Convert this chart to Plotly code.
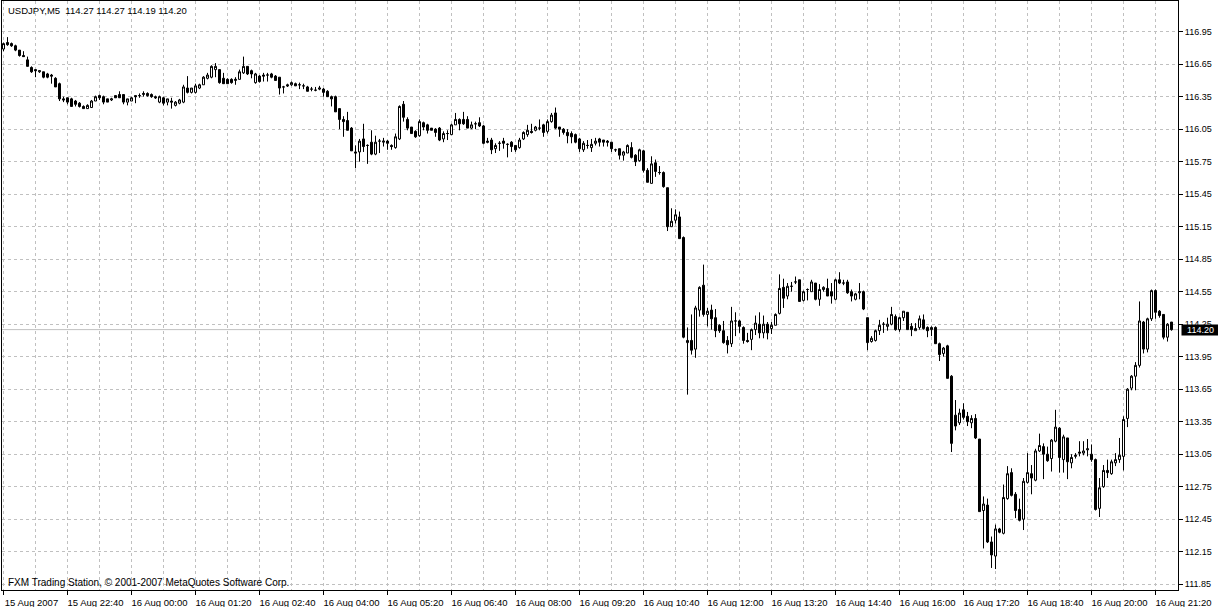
import plotly.graph_objects as go

# ---------------- data (USDJPY, M5) ----------------
opens = [
    116.79, 116.85, 116.84, 116.82, 116.78, 116.73, 116.69, 116.62, 116.60, 116.58,
    116.58, 116.56, 116.55, 116.52, 116.47, 116.33, 116.34, 116.33, 116.31, 116.29,
    116.26, 116.24, 116.25, 116.31, 116.36, 116.35, 116.33, 116.32, 116.36, 116.37,
    116.37, 116.30, 116.31, 116.36, 116.36, 116.37, 116.38, 116.37, 116.35, 116.30,
    116.34, 116.30, 116.31, 116.27, 116.29, 116.30, 116.43, 116.39, 116.39, 116.43,
    116.46, 116.52, 116.53, 116.60, 116.60, 116.52, 116.51, 116.51, 116.50, 116.51,
    116.57, 116.63, 116.59, 116.48, 116.54, 116.55, 116.55, 116.56, 116.54, 116.53,
    116.44, 116.46, 116.46, 116.47, 116.46, 116.45, 116.44, 116.42, 116.41, 116.42,
    116.42, 116.40, 116.35, 116.35, 116.24, 116.14, 116.13, 116.06, 115.84, 115.84,
    115.96, 115.90, 115.93, 115.82, 115.94, 115.93, 115.94, 115.90, 115.88, 115.96,
    116.28, 116.14, 116.07, 116.03, 115.99, 116.11, 116.09, 116.06, 116.05, 116.06,
    115.96, 116.01, 116.00, 116.09, 116.14, 116.14, 116.14, 116.06, 116.10, 116.11,
    116.08, 115.94, 115.95, 115.87, 115.92, 115.94, 115.91, 115.93, 115.90, 115.88,
    115.96, 116.00, 116.03, 116.04, 116.06, 116.09, 116.03, 116.12, 116.20, 116.07,
    116.05, 116.02, 116.01, 116.00, 115.96, 115.86, 115.90, 115.88, 115.92, 115.96,
    115.95, 115.94, 115.93, 115.86, 115.87, 115.81, 115.83, 115.88, 115.81, 115.76,
    115.85, 115.67, 115.55, 115.74, 115.65, 115.65, 115.51, 115.15, 115.21, 115.24,
    115.05, 114.08, 114.10, 114.02, 114.38, 114.61, 114.34, 114.38, 114.31, 114.24,
    114.19, 114.10, 114.07, 114.28, 114.28, 114.22, 114.10, 114.11, 114.20, 114.25,
    114.17, 114.25, 114.21, 114.24, 114.35, 114.59, 114.51, 114.60, 114.64, 114.66,
    114.47, 114.57, 114.55, 114.63, 114.48, 114.57, 114.58, 114.55, 114.48, 114.66,
    114.63, 114.64, 114.55, 114.48, 114.54, 114.55, 114.31, 114.09, 114.10, 114.19,
    114.25, 114.23, 114.25, 114.32, 114.20, 114.31, 114.36, 114.23, 114.19, 114.22,
    114.29, 114.22, 114.20, 114.22, 114.07, 113.98, 114.05, 113.77, 113.41, 113.34,
    113.46, 113.40, 113.34, 113.38, 113.19, 112.53, 112.58, 112.24, 112.11, 112.36,
    112.32, 112.64, 112.88, 112.68, 112.54, 112.45, 112.79, 112.87, 112.81, 113.08,
    113.12, 113.05, 113.01, 113.17, 113.29, 113.00, 113.20, 112.97, 113.03, 113.07,
    113.06, 113.09, 113.05, 113.00, 112.55, 112.75, 112.90, 112.87, 112.97, 113.00,
    113.03, 113.38, 113.66, 113.77, 113.87, 114.27, 114.02, 114.30, 114.56, 114.37,
    114.34, 114.13, 114.27,
]
highs = [
    116.85, 116.90, 116.85, 116.83, 116.78, 116.77, 116.72, 116.63, 116.60, 116.59,
    116.58, 116.57, 116.56, 116.53, 116.48, 116.35, 116.34, 116.34, 116.32, 116.30,
    116.27, 116.28, 116.32, 116.36, 116.37, 116.36, 116.33, 116.34, 116.36, 116.40,
    116.37, 116.33, 116.35, 116.36, 116.38, 116.40, 116.39, 116.38, 116.36, 116.36,
    116.35, 116.33, 116.34, 116.31, 116.33, 116.46, 116.54, 116.43, 116.47, 116.47,
    116.54, 116.57, 116.64, 116.66, 116.60, 116.57, 116.52, 116.52, 116.53, 116.60,
    116.72, 116.63, 116.60, 116.57, 116.55, 116.57, 116.57, 116.57, 116.55, 116.53,
    116.45, 116.47, 116.49, 116.48, 116.48, 116.47, 116.45, 116.44, 116.44, 116.45,
    116.43, 116.41, 116.36, 116.36, 116.24, 116.17, 116.21, 116.07, 115.90, 115.96,
    116.10, 115.91, 116.04, 115.99, 115.96, 115.97, 115.95, 115.91, 116.01, 116.27,
    116.31, 116.16, 116.07, 116.04, 116.14, 116.12, 116.10, 116.06, 116.06, 116.07,
    116.03, 116.04, 116.10, 116.20, 116.15, 116.21, 116.17, 116.12, 116.12, 116.16,
    116.09, 115.97, 115.97, 115.92, 115.94, 115.97, 115.92, 115.94, 115.90, 115.97,
    116.03, 116.09, 116.10, 116.08, 116.14, 116.10, 116.14, 116.20, 116.25, 116.07,
    116.06, 116.05, 116.03, 116.01, 115.97, 115.94, 115.95, 115.96, 115.97, 115.97,
    115.95, 115.95, 115.93, 115.87, 115.87, 115.85, 115.91, 115.93, 115.82, 115.87,
    115.86, 115.69, 115.80, 115.77, 115.71, 115.66, 115.51, 115.32, 115.31, 115.29,
    115.06, 114.22, 114.34, 114.42, 114.60, 114.80, 114.40, 114.43, 114.39, 114.25,
    114.28, 114.14, 114.41, 114.36, 114.29, 114.23, 114.17, 114.21, 114.33, 114.36,
    114.33, 114.27, 114.27, 114.35, 114.71, 114.67, 114.63, 114.64, 114.69, 114.66,
    114.56, 114.58, 114.66, 114.63, 114.62, 114.60, 114.67, 114.63, 114.67, 114.73,
    114.66, 114.66, 114.57, 114.54, 114.63, 114.56, 114.31, 114.14, 114.20, 114.29,
    114.27, 114.31, 114.41, 114.34, 114.32, 114.37, 114.36, 114.26, 114.26, 114.33,
    114.34, 114.23, 114.23, 114.23, 114.08, 114.04, 114.06, 113.78, 113.55, 113.47,
    113.52, 113.44, 113.41, 113.42, 113.19, 112.66, 112.64, 112.29, 112.40, 112.37,
    112.77, 112.94, 112.92, 112.70, 112.64, 112.83, 113.06, 112.95, 113.10, 113.24,
    113.15, 113.12, 113.19, 113.46, 113.30, 113.23, 113.20, 113.05, 113.06, 113.17,
    113.17, 113.19, 113.14, 113.01, 112.83, 112.95, 113.00, 113.00, 113.06, 113.20,
    113.40, 113.66, 113.78, 113.90, 114.46, 114.28, 114.31, 114.57, 114.57, 114.38,
    114.34, 114.26, 114.27,
]
lows = [
    116.77, 116.82, 116.81, 116.77, 116.72, 116.72, 116.63, 116.57, 116.53, 116.57,
    116.52, 116.52, 116.47, 116.44, 116.31, 116.30, 116.28, 116.26, 116.26, 116.25,
    116.24, 116.24, 116.25, 116.31, 116.32, 116.28, 116.30, 116.31, 116.34, 116.34,
    116.28, 116.27, 116.31, 116.29, 116.34, 116.35, 116.35, 116.34, 116.33, 116.29,
    116.27, 116.27, 116.24, 116.26, 116.28, 116.29, 116.38, 116.38, 116.38, 116.42,
    116.46, 116.51, 116.52, 116.53, 116.47, 116.47, 116.47, 116.47, 116.46, 116.51,
    116.56, 116.55, 116.52, 116.47, 116.48, 116.49, 116.49, 116.52, 116.50, 116.37,
    116.38, 116.44, 116.45, 116.45, 116.42, 116.42, 116.40, 116.40, 116.40, 116.41,
    116.35, 116.35, 116.26, 116.21, 116.05, 115.98, 116.04, 115.85, 115.69, 115.75,
    115.84, 115.73, 115.81, 115.81, 115.83, 115.89, 115.86, 115.86, 115.87, 115.95,
    116.12, 116.04, 116.01, 115.97, 115.98, 116.04, 116.01, 116.04, 115.98, 115.94,
    115.93, 115.95, 116.00, 116.09, 116.04, 116.09, 116.06, 116.05, 116.05, 116.07,
    115.91, 115.92, 115.82, 115.83, 115.85, 115.87, 115.79, 115.84, 115.84, 115.87,
    115.95, 115.98, 116.01, 116.03, 116.04, 115.98, 116.01, 116.11, 116.05, 115.98,
    116.00, 115.92, 115.92, 115.92, 115.84, 115.84, 115.87, 115.84, 115.90, 115.89,
    115.89, 115.89, 115.84, 115.84, 115.77, 115.76, 115.83, 115.78, 115.71, 115.75,
    115.65, 115.56, 115.55, 115.61, 115.63, 115.51, 115.11, 115.15, 115.18, 115.04,
    114.12, 113.60, 113.97, 113.94, 114.32, 114.32, 114.23, 114.20, 114.13, 114.17,
    114.07, 113.98, 114.04, 114.14, 114.17, 114.07, 114.08, 114.01, 114.15, 114.12,
    114.12, 114.11, 114.16, 114.24, 114.34, 114.40, 114.48, 114.55, 114.62, 114.46,
    114.46, 114.47, 114.55, 114.47, 114.42, 114.55, 114.51, 114.44, 114.47, 114.62,
    114.61, 114.53, 114.46, 114.47, 114.48, 114.38, 114.01, 114.08, 114.09, 114.15,
    114.17, 114.19, 114.24, 114.19, 114.18, 114.28, 114.20, 114.14, 114.19, 114.20,
    114.20, 114.13, 114.14, 114.07, 113.91, 113.95, 113.75, 113.07, 113.27, 113.32,
    113.37, 113.31, 113.29, 113.19, 112.52, 112.18, 112.23, 112.00, 111.99, 112.32,
    112.31, 112.63, 112.66, 112.46, 112.43, 112.35, 112.78, 112.68, 112.80, 113.07,
    112.82, 112.98, 112.89, 113.16, 112.88, 112.88, 112.82, 112.92, 113.01, 113.03,
    113.04, 113.03, 112.98, 112.53, 112.47, 112.74, 112.83, 112.86, 112.94, 112.97,
    112.90, 113.30, 113.64, 113.64, 113.85, 113.98, 113.99, 114.28, 114.30, 114.31,
    114.11, 114.09, 114.19,
]
closes = [
    116.84, 116.83, 116.82, 116.78, 116.73, 116.72, 116.63, 116.58, 116.59, 116.59,
    116.53, 116.53, 116.54, 116.44, 116.33, 116.32, 116.30, 116.26, 116.28, 116.26,
    116.24, 116.27, 116.31, 116.35, 116.34, 116.30, 116.30, 116.33, 116.34, 116.34,
    116.30, 116.33, 116.34, 116.35, 116.36, 116.38, 116.36, 116.35, 116.34, 116.35,
    116.29, 116.33, 116.30, 116.30, 116.32, 116.44, 116.39, 116.43, 116.45, 116.46,
    116.53, 116.55, 116.63, 116.63, 116.48, 116.47, 116.47, 116.48, 116.51, 116.58,
    116.63, 116.56, 116.56, 116.56, 116.49, 116.54, 116.55, 116.53, 116.50, 116.43,
    116.44, 116.45, 116.48, 116.45, 116.46, 116.45, 116.40, 116.42, 116.41, 116.43,
    116.39, 116.35, 116.33, 116.21, 116.14, 116.12, 116.04, 115.85, 115.83, 115.94,
    115.89, 115.90, 115.82, 115.93, 115.94, 115.94, 115.92, 115.89, 115.98, 116.26,
    116.16, 116.06, 116.01, 115.98, 116.12, 116.07, 116.04, 116.04, 116.02, 115.95,
    116.01, 116.01, 116.09, 116.14, 116.10, 116.10, 116.06, 116.09, 116.10, 116.08,
    115.92, 115.93, 115.86, 115.90, 115.92, 115.92, 115.91, 115.89, 115.86, 115.95,
    116.02, 116.04, 116.02, 116.07, 116.06, 116.02, 116.12, 116.18, 116.06, 116.05,
    116.02, 115.99, 115.98, 115.93, 115.87, 115.92, 115.90, 115.91, 115.94, 115.93,
    115.93, 115.93, 115.87, 115.86, 115.81, 115.84, 115.90, 115.79, 115.75, 115.86,
    115.67, 115.56, 115.73, 115.66, 115.65, 115.52, 115.15, 115.20, 115.26, 115.04,
    114.13, 114.10, 114.01, 114.40, 114.59, 114.34, 114.37, 114.30, 114.19, 114.19,
    114.08, 114.06, 114.28, 114.28, 114.23, 114.10, 114.09, 114.20, 114.26, 114.17,
    114.25, 114.17, 114.24, 114.34, 114.58, 114.49, 114.60, 114.60, 114.64, 114.46,
    114.55, 114.57, 114.64, 114.48, 114.57, 114.59, 114.51, 114.51, 114.66, 114.63,
    114.63, 114.54, 114.51, 114.53, 114.55, 114.39, 114.08, 114.12, 114.19, 114.24,
    114.25, 114.25, 114.34, 114.20, 114.31, 114.37, 114.20, 114.20, 114.21, 114.30,
    114.21, 114.19, 114.22, 114.07, 113.97, 114.03, 113.75, 113.15, 113.31, 113.43,
    113.39, 113.35, 113.38, 113.20, 112.52, 112.59, 112.24, 112.12, 112.36, 112.33,
    112.65, 112.87, 112.67, 112.53, 112.44, 112.80, 112.88, 112.83, 113.08, 113.13,
    113.05, 112.99, 113.18, 113.30, 113.02, 113.21, 112.98, 113.02, 113.04, 113.06,
    113.08, 113.10, 113.00, 112.54, 112.74, 112.90, 112.88, 112.98, 113.00, 113.04,
    113.37, 113.65, 113.77, 113.87, 114.28, 114.02, 114.30, 114.56, 114.36, 114.33,
    114.13, 114.25, 114.20,
]

time_labels = [
    "15 Aug 2007", "15 Aug 22:40", "16 Aug 00:00", "16 Aug 01:20", "16 Aug 02:40",
    "16 Aug 04:00", "16 Aug 05:20", "16 Aug 06:40", "16 Aug 08:00", "16 Aug 09:20",
    "16 Aug 10:40", "16 Aug 12:00", "16 Aug 13:20", "16 Aug 14:40", "16 Aug 16:00",
    "16 Aug 17:20", "16 Aug 18:40", "16 Aug 20:00", "16 Aug 21:20",
]
price_labels = [
    "116.95", "116.65", "116.35", "116.05", "115.75", "115.45", "115.15", "114.85",
    "114.55", "114.25", "113.95", "113.65", "113.35", "113.05", "112.75", "112.45",
    "112.15", "111.85",
]
symbol = "USDJPY,M5"
copyright_text = "FXM Trading Station, \u00a9 2001-2007 MetaQuotes Software Corp."

n = len(opens)
assert n == len(highs) == len(lows) == len(closes)
bar_index = list(range(n))

BARS_PER_LABEL = 16
label_bars = [k * BARS_PER_LABEL for k in range(len(time_labels))]
grid_bars = [b + BARS_PER_LABEL // 2 for b in label_bars]

FONT = "Liberation Sans, Arial, sans-serif"
GRID = "#c0c0c0"
DASH = "3px,3px"

fig = go.Figure(
    go.Candlestick(
        x=bar_index, open=opens, high=highs, low=lows, close=closes,
        increasing=dict(line=dict(color="black", width=1), fillcolor="white"),
        decreasing=dict(line=dict(color="black", width=1), fillcolor="black"),
        whiskerwidth=0, hoverinfo="skip", showlegend=False,
    )
)

last_close = closes[-1]

fig.update_layout(
    width=1218, height=607,
    margin=dict(l=2, r=40, t=1, b=17, autoexpand=False),
    paper_bgcolor="white", plot_bgcolor="white",
    boxgap=0.5, boxgroupgap=0,
    font=dict(family=FONT, size=9, color="black"),
    showlegend=False,
    xaxis=dict(
        range=[-0.375, 293.625], tickmode="array", tickvals=label_bars, ticktext=time_labels,
        ticks="outside", ticklen=4, tickwidth=1, tickcolor="black",
        showline=True, linecolor="black", linewidth=1, mirror=True,
        showgrid=True, gridcolor=GRID, gridwidth=1, griddash=DASH,
        zeroline=False, rangeslider=dict(visible=False), ticklabelshift=28,
        tickfont=dict(family=FONT, size=9.5, color="black"),
        minor=dict(tickmode="array", tickvals=grid_bars, showgrid=True,
                   gridcolor=GRID, gridwidth=1, griddash=DASH, ticks=""),
        fixedrange=True,
    ),
    yaxis=dict(
        side="right", range=[111.7965, 117.2334], tickmode="array",
        tickvals=[float(p) for p in price_labels], ticktext=price_labels,
        ticks="outside", ticklen=4, tickwidth=1, tickcolor="black",
        showline=True, linecolor="black", linewidth=1, mirror=True,
        showgrid=True, gridcolor=GRID, gridwidth=1, griddash=DASH,
        zeroline=False, tickfont=dict(family=FONT, size=9, color="black"),
        fixedrange=True,
    ),
    shapes=[
        dict(type="line", xref="paper", x0=0, x1=1, yref="y", y0=last_close, y1=last_close,
             line=dict(color="#c0c0c0", width=1), layer="below"),
    ],
    annotations=[
        dict(xref="paper", x=0, xshift=4, xanchor="left", yref="paper", y=1, yshift=-9,
             yanchor="middle", showarrow=False,
             text=f"{symbol}\u00a0\u00a0{opens[-1]:.2f} {highs[-1]:.2f} {lows[-1]:.2f} {closes[-1]:.2f}",
             font=dict(family=FONT, size=9.5, color="black")),
        dict(xref="paper", x=0, xshift=4, xanchor="left", yref="paper", y=0, yshift=8,
             yanchor="middle", showarrow=False, text=copyright_text,
             font=dict(family=FONT, size=10, color="black")),
        dict(xref="paper", x=1, xshift=3, xanchor="left", yref="y", y=last_close,
             yanchor="middle", showarrow=False, text=f"{last_close:.2f}",
             font=dict(family=FONT, size=9, color="white"), bgcolor="black",
             borderpad=1, width=35, height=8, align="center"),
    ],
)

fig.write_html("out.html", config={"displayModeBar": False, "staticPlot": True},
               post_script="document.body.style.margin='0';document.body.style.overflow='hidden';")
